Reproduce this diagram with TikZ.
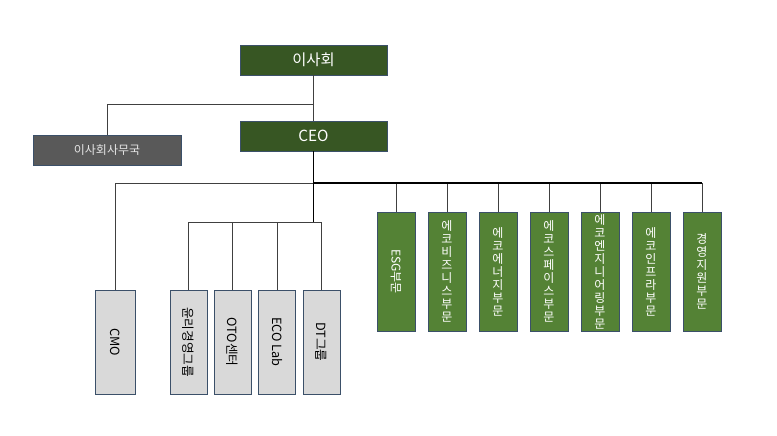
\documentclass[tikz,border=0pt]{standalone}
\usepackage{fontspec}
\usepackage{graphicx}
\setmainfont{Noto Sans CJK KR}
\definecolor{topgreen}{HTML}{375623}
\definecolor{unitgreen}{HTML}{548235}
\definecolor{officegray}{HTML}{595959}
\definecolor{staffgray}{HTML}{D9D9D9}
\definecolor{boxline}{HTML}{3B5069}
\tikzset{
  topbox/.style={draw=boxline,fill=topgreen,text=white,inner sep=0pt,
    minimum width=110.25pt,minimum height=22.5pt,font=\fontsize{11.5}{13}\selectfont},
  officebox/.style={draw=boxline,fill=officegray,text=white!90!black,inner sep=0pt,
    minimum width=111pt,minimum height=22.5pt,font=\fontsize{9}{10}\selectfont},
  unitbox/.style={draw=boxline,fill=unitgreen,text=white,inner sep=0pt,align=center,
    minimum width=28.5pt,minimum height=89.25pt,font=\fontsize{9}{9.75}\selectfont},
  staffbox/.style={draw=boxline,fill=staffgray,text=black,inner sep=0pt,
    minimum width=28pt,minimum height=78pt,font=\fontsize{9.5}{10}\selectfont},
  link/.style={draw=black!75,line width=0.75pt},
  trunk/.style={draw=black,line width=1.4pt}
}
\begin{document}
\begin{tikzpicture}[x=0.75pt,y=-0.75pt]
\useasboundingbox (0,0) rectangle (777,435);

\node[topbox] (board) at (313.5,60) {이사회};
\node[topbox] (ceo) at (313.5,136) {CEO};
\node[officebox] (office) at (107,150) {이사회사무국};

\node[staffbox,minimum width=30pt] (cmo) at (115,342) {\rotatebox{-90}{CMO}};
\node[staffbox] (ethics) at (188.5,342) {\rotatebox{-90}{윤리경영그룹}};
\node[staffbox] (oto) at (232.5,342) {\rotatebox{-90}{OTO센터}};
\node[staffbox] (lab) at (277,342) {\rotatebox{-90}{ECO Lab}};
\node[staffbox] (dt) at (321.5,342) {\rotatebox{-90}{DT그룹}};

\node[unitbox] (esg) at (396,271.5) {\rotatebox{-90}{ESG부문}};
\node[unitbox] (biz) at (447,271.5) {에\\코\\비\\즈\\니\\스\\부\\문};
\node[unitbox] (energy) at (498,271.5) {에\\코\\에\\너\\지\\부\\문};
\node[unitbox] (space) at (549,271.5) {에\\코\\스\\페\\이\\스\\부\\문};
\node[unitbox] (eng) at (600,271.5) {에\\코\\엔\\지\\니\\어\\링\\부\\문};
\node[unitbox] (infra) at (651,271.5) {에\\코\\인\\프\\라\\부\\문};
\node[unitbox] (support) at (702,271.5) {경\\영\\지\\원\\부\\문};

\coordinate (split) at (313.5,104);
\coordinate (hub) at (313.5,183);
\coordinate (sub) at (313.5,222);

\draw[link] (board.south) -- (ceo.north);
\draw[link] (split) -| (office.north);
\draw[link] (hub) -| (cmo.north);
\foreach \unit in {esg,biz,energy,space,eng,infra,support}
  \draw[link] (hub) -| (\unit.north);
\foreach \staff in {ethics,oto,lab,dt}
  \draw[link] (sub) -| (\staff.north);
\draw[trunk] (ceo.south) -- (hub) -- (sub);
\draw[trunk] (hub) -- (support.north |- hub);
\end{tikzpicture}
\end{document}
